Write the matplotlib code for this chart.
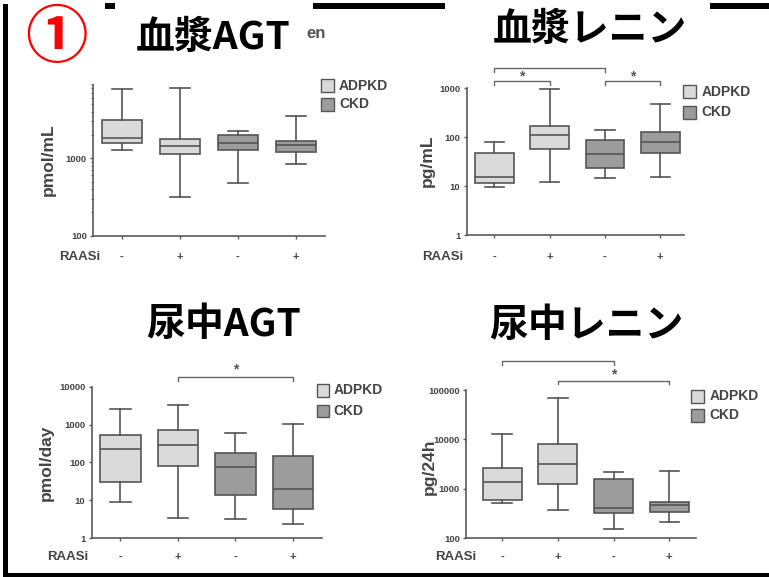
import matplotlib
matplotlib.use("Agg")
import matplotlib.pyplot as plt
import matplotlib.ticker as mticker
from matplotlib import transforms
from matplotlib.patches import Rectangle

W, H, DPI = 769, 577, 100

# ---- data -------------------------------------------------------------
groups = ["ADPKD", "ADPKD", "CKD", "CKD"]
raasi = ["-", "+", "-", "+"]
series_names = ["ADPKD", "CKD"]

# plasma angiotensinogen (pmol/mL)
plasma_agt_whislo = [1270, 313, 479, 851]
plasma_agt_q1 = [1590, 1130, 1280, 1200]
plasma_agt_med = [1830, 1440, 1590, 1470]
plasma_agt_q3 = [3130, 1800, 2000, 1660]
plasma_agt_whishi = [7870, 8040, 2260, 3560]

# plasma renin (pg/mL)
plasma_renin_whislo = [9.7, 12.1, 14.8, 15.3]
plasma_renin_q1 = [11.9, 56.9, 23.3, 47.9]
plasma_renin_med = [15.8, 110, 45, 81.6]
plasma_renin_q3 = [48.7, 173, 86.9, 131]
plasma_renin_whishi = [81.6, 968, 144, 471]

# urinary angiotensinogen (pmol/day)
urine_agt_whislo = [8.97, 3.42, 3.22, 2.33]
urine_agt_q1 = [31.3, 79, 14.0, 6.0]
urine_agt_med = [221, 292, 74.3, 20.5]
urine_agt_q3 = [535, 724, 177, 151]
urine_agt_whishi = [2580, 3350, 593, 1062]

# urinary renin (pg/24h)
urine_renin_whislo = [521, 376, 155, 215]
urine_renin_q1 = [608, 1280, 326, 337]
urine_renin_med = [1360, 3210, 413, 468]
urine_renin_q3 = [2620, 8260, 1590, 555]
urine_renin_whishi = [12970, 69300, 2240, 2275]

# significance brackets (group positions)
plasma_renin_pairs = [(1, 3), (1, 2), (3, 4)]
urine_agt_pairs = [(2, 4)]
urine_renin_pairs = [(1, 3), (2, 4)]

# ---- styling ----------------------------------------------------------
FACE = {"ADPKD": "#dadada", "CKD": "#9c9c9c"}
EDGE = "#555555"
AXC = "#5a5a5a"
TXT = "#444444"
LATIN = ["Liberation Sans", "DejaVu Sans"]
CJK = ["Noto Sans CJK JP", "DejaVu Sans"]

fig = plt.figure(figsize=(W / DPI, H / DPI), dpi=DPI)
fig.patch.set_facecolor("white")


def fx(x):
    return x / W


def fy(y):
    return 1 - y / H


def make_stats(lo, q1, med, q3, hi):
    return [dict(whislo=a, q1=b, med=c, q3=d, whishi=e, fliers=[])
            for a, b, c, d, e in zip(lo, q1, med, q3, hi)]


def panel(stats, left, right, top, bottom, xlim, ylim, minor=False):
    ax = fig.add_axes([fx(left), fy(bottom), fx(right) - fx(left), fy(top) - fy(bottom)])
    ax.set_yscale("log")
    ax.set_xlim(*xlim)
    ax.set_ylim(*ylim)
    art = ax.bxp(stats, positions=[1, 2, 3, 4], widths=0.7, patch_artist=True,
                 showfliers=False,
                 boxprops=dict(edgecolor=EDGE, linewidth=1.2),
                 whiskerprops=dict(color=EDGE, linewidth=1.2),
                 capprops=dict(color=EDGE, linewidth=1.2),
                 medianprops=dict(color=EDGE, linewidth=1.2))
    for box, g in zip(art["boxes"], groups):
        box.set_facecolor(FACE[g])
    for s in ("top", "right"):
        ax.spines[s].set_visible(False)
    for s in ("left", "bottom"):
        ax.spines[s].set_color(AXC)
        ax.spines[s].set_linewidth(1.2)
    ax.set_xticks([1, 2, 3, 4])
    ax.set_xticklabels([])
    ax.yaxis.set_major_locator(mticker.LogLocator(base=10, numticks=10))
    ax.yaxis.set_major_formatter(mticker.FuncFormatter(lambda v, _: f"{int(round(v))}"))
    if minor:
        ax.yaxis.set_minor_locator(mticker.LogLocator(base=10, subs=range(2, 10), numticks=20))
        ax.yaxis.set_minor_formatter(mticker.NullFormatter())
    else:
        ax.yaxis.set_minor_locator(mticker.NullLocator())
    ax.tick_params(axis="both", which="major", length=2.5, width=1.0, color=AXC,
                   labelsize=6.8, labelcolor=TXT, pad=2)
    ax.tick_params(axis="y", which="minor", length=1.5, width=0.8, color=AXC)
    for lab in ax.get_yticklabels():
        lab.set_fontfamily(LATIN)
        lab.set_fontweight("bold")
    ax.set_facecolor("none")
    return ax


def sign_row(ax, y_px, raasi_right):
    tr = transforms.blended_transform_factory(ax.transData, fig.transFigure)
    for i, s in enumerate(raasi, start=1):
        ax.text(i, fy(y_px), s, transform=tr, ha="center", va="center",
                fontsize=8, fontweight="bold", color=TXT, family=LATIN, clip_on=False)
    fig.text(fx(raasi_right), fy(y_px), "RAASi", ha="right", va="center",
             fontsize=9.5, fontweight="bold", color=TXT, family=LATIN)


def ylabel(text, x_px, y_px):
    fig.text(fx(x_px), fy(y_px), text, rotation=90, ha="center", va="center",
             fontsize=12.5, fontweight="bold", color=TXT, family=LATIN)


def legend(x_px, y1, y2, text_x, size=12.5):
    for name, yc in zip(series_names, (y1, y2)):
        fig.add_artist(Rectangle((fx(x_px), fy(yc + size / 2)), size / W, size / H,
                                 transform=fig.transFigure, facecolor=FACE[name],
                                 edgecolor=EDGE, linewidth=1.0))
        fig.text(fx(text_x), fy(yc), name, ha="left", va="center",
                 fontsize=10, fontweight="bold", color=TXT, family=LATIN)


def bracket(ax, x1, x2, y_px, drop=3.5):
    tr = transforms.blended_transform_factory(ax.transData, fig.transFigure)
    ax.plot([x1, x1, x2, x2], [fy(y_px + drop), fy(y_px), fy(y_px), fy(y_px + drop)],
            transform=tr, clip_on=False, color="#666666", lw=1.0)


def star(ax, x, y_px):
    tr = transforms.blended_transform_factory(ax.transData, fig.transFigure)
    ax.text(x, fy(y_px), "*", transform=tr, ha="center", va="center",
            fontsize=10, fontweight="bold", color="#555555", family=LATIN, clip_on=False)


# ---- plasma AGT -------------------------------------------------------
ax1 = panel(make_stats(plasma_agt_whislo, plasma_agt_q1, plasma_agt_med, plasma_agt_q3, plasma_agt_whishi),
            93, 325, 80.9, 235.7, (0.5, 4.5), (100, 10000), minor=True)
sign_row(ax1, 257, 100)
ylabel("pmol/mL", 48, 160)
legend(321, 85.5, 104.5, 339)

# ---- plasma renin -----------------------------------------------------
ax2 = panel(make_stats(plasma_renin_whislo, plasma_renin_q1, plasma_renin_med, plasma_renin_q3, plasma_renin_whishi),
            466.7, 684, 88.3, 235.3, (0.5, 4.43), (1, 1000))
sign_row(ax2, 257, 463)
ylabel("pg/mL", 427.5, 161)
legend(683, 91.5, 112.5, 701.5)
bracket(ax2, *plasma_renin_pairs[0], 68.3)
bracket(ax2, *plasma_renin_pairs[1], 81)
bracket(ax2, *plasma_renin_pairs[2], 81)
star(ax2, 1.5, 76)
star(ax2, 3.5, 76)

# ---- urinary AGT ------------------------------------------------------
ax3 = panel(make_stats(urine_agt_whislo, urine_agt_q1, urine_agt_med, urine_agt_q3, urine_agt_whishi),
            91.7, 321.7, 386.7, 538.3, (0.5, 4.5), (1, 10000))
sign_row(ax3, 556.7, 88.3)
ylabel("pmol/day", 46.5, 463)
legend(316.5, 390.5, 411, 333.5)
bracket(ax3, *urine_agt_pairs[0], 377.3)
star(ax3, 3.0, 369)

# ---- urinary renin ----------------------------------------------------
ax4 = panel(make_stats(urine_renin_whislo, urine_renin_q1, urine_renin_med, urine_renin_q3, urine_renin_whishi),
            466, 696, 390, 538.3, (0.35, 4.48), (100, 100000))
sign_row(ax4, 556.7, 476.7)
ylabel("pg/24h", 429, 466.5)
legend(691, 396.3, 415.3, 709.3)
bracket(ax4, *urine_renin_pairs[0], 361)
bracket(ax4, *urine_renin_pairs[1], 380.7)
star(ax4, 3.0, 374)

# ---- slide overlay: frame, title boxes, titles ------------------------
fig.text(fx(306), fy(33), "en", ha="left", va="center", fontsize=12,
         fontweight="bold", color="#555555", family=LATIN)
fig.add_artist(Rectangle((fx(9), fy(83.5)), fx(307) - fx(9), 83.5 / H,
                         transform=fig.transFigure, facecolor="white",
                         edgecolor="none", zorder=5))


def bar(x0, y0, x1, y1):
    fig.add_artist(Rectangle((fx(x0), fy(y1)), fx(x1) - fx(x0), (y1 - y0) / H,
                             transform=fig.transFigure, facecolor="black",
                             edgecolor="none", zorder=6))


bar(3, 4, 8, 577)        # left edge
bar(3, 573, 769, 577)    # bottom edge
bar(105, 3.5, 115, 8.5)  # top edge pieces
bar(313, 3.5, 445, 8.5)
bar(710, 3.5, 769, 8.5)

fig.text(fx(56.5), fy(38.5), "①", ha="center", va="center", fontsize=45,
         fontweight="bold", color="#ff0000", family=CJK, zorder=7)

title_kw = dict(ha="center", va="center", fontsize=28, fontweight="bold",
                color="black", family=CJK, zorder=7)
fig.text(fx(213.5), fy(37), "血漿AGT", **title_kw)
fig.text(fx(590), fy(29), "血漿レニン", **title_kw)
fig.text(fx(223.5), fy(324), "尿中AGT", **title_kw)
fig.text(fx(586), fy(325), "尿中レニン", **title_kw)

fig.savefig("out.png", dpi=DPI, facecolor="white")
